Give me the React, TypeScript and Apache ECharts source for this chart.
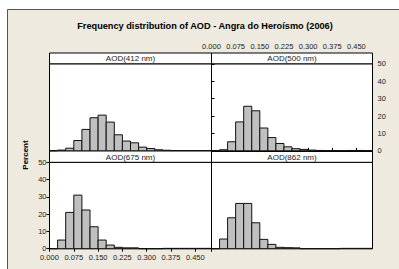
import React, { useEffect, useRef } from "react";
import * as echarts from "echarts";

const binStarts = [0, 0.025, 0.05, 0.075, 0.1, 0.125, 0.15, 0.175, 0.2, 0.225, 0.25, 0.275, 0.3, 0.325, 0.35, 0.375, 0.4, 0.425, 0.45, 0.475];
const binWidth = 0.025;
const aod412 = [0, 0.4, 1.5, 5.9, 12.3, 19, 20.5, 16.5, 9.2, 5.6, 4.6, 2.1, 1.3, 0.6, 0.3, 0.15, 0.15, 0.15, 0.15, 0.15];
const aod500 = [0, 0.6, 5.2, 16.6, 25.6, 23, 13.1, 7.6, 4.2, 2.3, 1.2, 0.8, 0.4, 0.2, 0, 0, 0, 0.2, 0.2, 0];
const aod675 = [0, 5.0, 21, 31, 22.4, 12.7, 5, 2.1, 0.8, 0.5, 0.5, 0, 0, 0, 0.2, 0.2, 0.2, 0.2, 0.2, 0.2];
const aod862 = [0, 5.6, 17.9, 26.2, 26.2, 15, 5.4, 2.5, 0.8, 0.6, 0.5, 0, 0, 0, 0, 0, 0.2, 0.2, 0.2, 0.2];
const panelNames = ["AOD(412 nm)", "AOD(500 nm)", "AOD(675 nm)", "AOD(862 nm)"];
const xTicks = [0, 0.075, 0.15, 0.225, 0.3, 0.375, 0.45];
const yTicks = [0, 10, 20, 30, 40, 50];
const title = "Frequency distribution of AOD - Angra do Heroísmo (2006)";
const yName = "Percent";

const FONT = "Liberation Sans";

export default function App() {
  const ref = useRef<HTMLDivElement>(null);
  useEffect(() => {
    if (!ref.current) return;
    const chart = echarts.init(ref.current, undefined, { renderer: "svg" });
    const series = [aod412, aod500, aod675, aod862];
    const L = [49.5, 211.5];
    const W = [162, 161];
    const T = [63.8, 162.3];
    const H = [87, 86.4];
    const stripTop = [53, 150.8];
    const grids: any[] = [];
    const xAxes: any[] = [];
    const yAxes: any[] = [];
    const ser: any[] = [];
    const graphics: any[] = [
      { type: "rect", z: -10, shape: { x: 7.5, y: 9.5, width: 400, height: 270 }, style: { fill: "#eeeadf", stroke: "#555", lineWidth: 1 } },
      { type: "text", x: 205, y: 26, style: { text: title, font: `bold 9.2px ${FONT}`, fill: "#000", align: "center", verticalAlign: "middle" } },
      { type: "text", x: 25, y: 155, rotation: Math.PI / 2, style: { text: yName, font: `bold 8px ${FONT}`, fill: "#000", align: "center", verticalAlign: "middle" } },
    ];
    for (let i = 0; i < 4; i++) {
      const c = i % 2;
      const r = Math.floor(i / 2);
      grids.push({ left: L[c], top: T[r], width: W[c], height: H[r], show: true, backgroundColor: "#fff", borderColor: "#000", borderWidth: 1, containLabel: false });
      const showTopX = i === 1;
      const showBotX = i === 2;
      xAxes.push({
        type: "value", gridIndex: i, min: 0, max: 0.5, interval: 0.075,
        position: r === 0 ? "top" : "bottom",
        offset: showTopX ? T[0] - stripTop[0] : 0,
        axisLine: { show: showTopX || showBotX, lineStyle: { color: "#000", width: 1 } },
        axisTick: { show: showTopX || showBotX, inside: false, length: 3, lineStyle: { color: "#000" } },
        axisLabel: { show: showTopX || showBotX, fontFamily: FONT, fontSize: 7.5, color: "#222", margin: showBotX ? 4.5 : 3, formatter: (v: number) => (xTicks.some((t) => Math.abs(t - v) < 1e-9) ? v.toFixed(3) : "") },
        splitLine: { show: false },
      });
      const showL = i === 2;
      const showR = i === 1;
      yAxes.push({
        type: "value", gridIndex: i, min: 0, max: 50, interval: 10,
        position: c === 0 ? "left" : "right",
        axisLine: { show: showL || showR, lineStyle: { color: "#000" } },
        axisTick: { show: showL || showR, length: 3, lineStyle: { color: "#000" } },
        axisLabel: { show: showL || showR, fontFamily: FONT, fontSize: 7.5, color: "#222", margin: showR ? 5 : 3, formatter: (v: number) => (yTicks.includes(v) ? String(v) : "") },
        splitLine: { show: false },
      });
      ser.push({
        type: "custom", xAxisIndex: i, yAxisIndex: i,
        data: binStarts.map((s, k) => [s, s + binWidth, series[i][k]]),
        renderItem: (params: any, api: any) => {
          const p0 = api.coord([api.value(0), api.value(2)]);
          const p1 = api.coord([api.value(1), 0]);
          return { type: "rect", shape: { x: p0[0], y: p0[1], width: p1[0] - p0[0], height: p1[1] - p0[1] }, style: { fill: "#c0c0c0", stroke: "#111", lineWidth: 1 } };
        },
      });
      graphics.push({ type: "rect", shape: { x: L[c], y: stripTop[r], width: W[c], height: T[r] - stripTop[r] }, style: { fill: "#fff", stroke: "#000", lineWidth: 1 } });
      graphics.push({ type: "text", x: L[c] + W[c] / 2, y: (stripTop[r] + T[r]) / 2 + 0.5, style: { text: panelNames[i], font: `8px ${FONT}`, fill: "#222", align: "center", verticalAlign: "middle" } });
    }
    chart.setOption({ animation: false, grid: grids, xAxis: xAxes, yAxis: yAxes, series: ser, graphic: graphics });
    return () => chart.dispose();
  }, []);
  return <div ref={ref} style={{ position: "fixed", left: 0, top: 0, width: 399, height: 269, background: "#fff" }} />;
}
